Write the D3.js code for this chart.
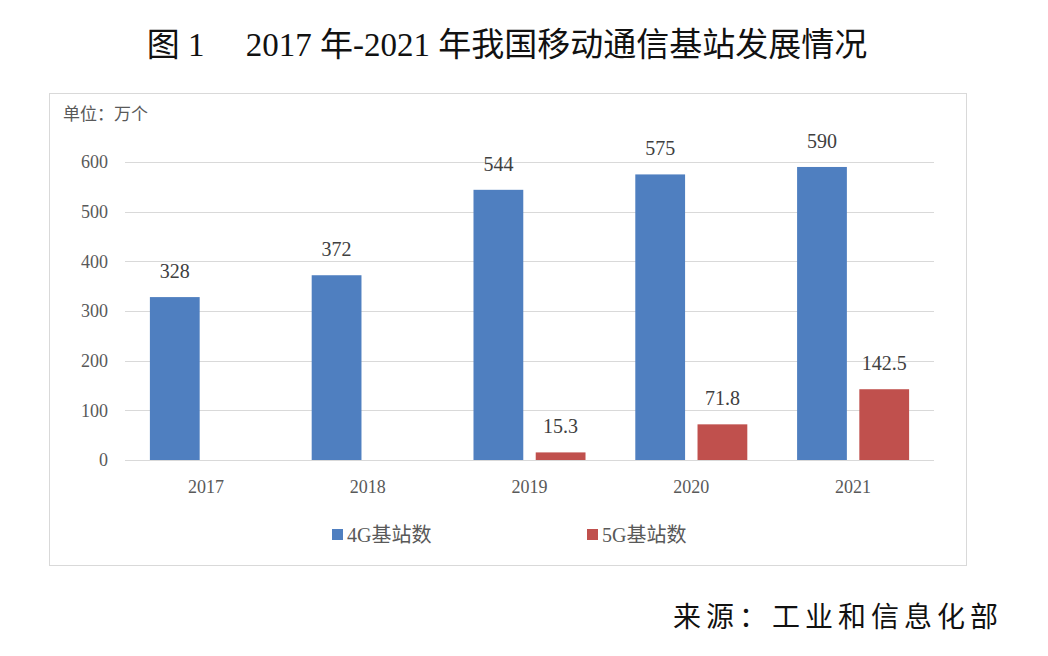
<!DOCTYPE html>
<html><head><meta charset="utf-8">
<script src="https://cdn.jsdelivr.net/npm/d3@7"></script>
<style>body{margin:0;background:#fff}svg{display:block}</style>
</head><body><svg id="c" width="1048" height="656"></svg>
<script>
const categories = ["2017","2018","2019","2020","2021"];
const series4G = [328, 372, 544, 575, 590];
const series5G = [null, null, 15.3, 71.8, 142.5];
const seriesNames = ["4G基站数","5G基站数"];
const yTicks = [0,100,200,300,400,500,600];
const colors = ["#4f7fc0","#c0504d"];

const svg = d3.select("#c");
const serif = "'Liberation Serif','Noto Sans CJK SC',serif";
const cjk = "'Noto Sans CJK SC',sans-serif";

svg.append("text").attr("x",507).attr("y",56).attr("text-anchor","middle")
  .attr("font-size",33).attr("fill","#111").attr("font-family",serif)
  .text("图 1\u2003 2017 年-2021 年我国移动通信基站发展情况");

svg.append("rect").attr("x",49.5).attr("y",93.5).attr("width",917).attr("height",472)
  .attr("fill","none").attr("stroke","#d9d9d9");

svg.append("text").attr("x",63).attr("y",120).attr("font-size",17).attr("fill","#595959")
  .attr("font-family",cjk).text("单位：万个");

const x0 = d3.scaleBand().domain(categories).range([125,934]);
const x1 = d3.scaleBand().domain([0,1]).range([0,x0.bandwidth()]).paddingInner(0.2).paddingOuter(0.4);
const y = d3.scaleLinear().domain([0,600]).range([460,162]);

svg.selectAll("line.grid").data(yTicks).join("line").attr("class","grid")
  .attr("x1",125).attr("x2",934).attr("y1",d=>Math.round(y(d))+0.5).attr("y2",d=>Math.round(y(d))+0.5)
  .attr("stroke","#d9d9d9").attr("stroke-width",1);

const yAxis = d3.axisLeft(y).tickValues(yTicks).tickSize(0).tickPadding(0);
const ya = svg.append("g").attr("transform","translate(108,0)").call(yAxis);
ya.select(".domain").remove();
ya.selectAll("text").attr("font-size",18).attr("fill","#595959").attr("font-family",serif);

const xAxis = d3.axisBottom(x0).tickSize(0).tickPadding(0);
const xa = svg.append("g").attr("transform","translate(0,480)").call(xAxis);
xa.select(".domain").remove();
xa.selectAll("text").attr("font-size",18).attr("fill","#595959").attr("font-family",serif).attr("dy","0.71em");

[series4G, series5G].forEach((vals,si)=>{
  const data = categories.map((c,i)=>({c, v: vals[i]})).filter(d=>d.v!=null);
  svg.selectAll("rect.s"+si).data(data).join("rect").attr("class","s"+si)
    .attr("x",d=>x0(d.c)+x1(si)).attr("width",x1.bandwidth())
    .attr("y",d=>y(d.v)).attr("height",d=>y(0)-y(d.v)).attr("fill",colors[si]);
  svg.selectAll("text.l"+si).data(data).join("text").attr("class","l"+si)
    .attr("x",d=>x0(d.c)+x1(si)+x1.bandwidth()/2).attr("y",d=>y(d.v)-19)
    .attr("text-anchor","middle").attr("font-size",20).attr("fill","#404040")
    .attr("font-family",serif).text(d=>d.v);
});

const legX = [332,587];
seriesNames.forEach((n,i)=>{
  svg.append("rect").attr("x",legX[i]).attr("y",529).attr("width",11).attr("height",11).attr("fill",colors[i]);
  svg.append("text").attr("x",legX[i]+15).attr("y",542).attr("font-size",20).attr("fill","#595959")
    .attr("font-family",serif).text(n);
});

svg.append("text").attr("x",1003).attr("y",627).attr("text-anchor","end").attr("font-size",28)
  .attr("fill","#111").attr("font-family",cjk).attr("letter-spacing",5).text("来源：工业和信息化部");
</script></body></html>
